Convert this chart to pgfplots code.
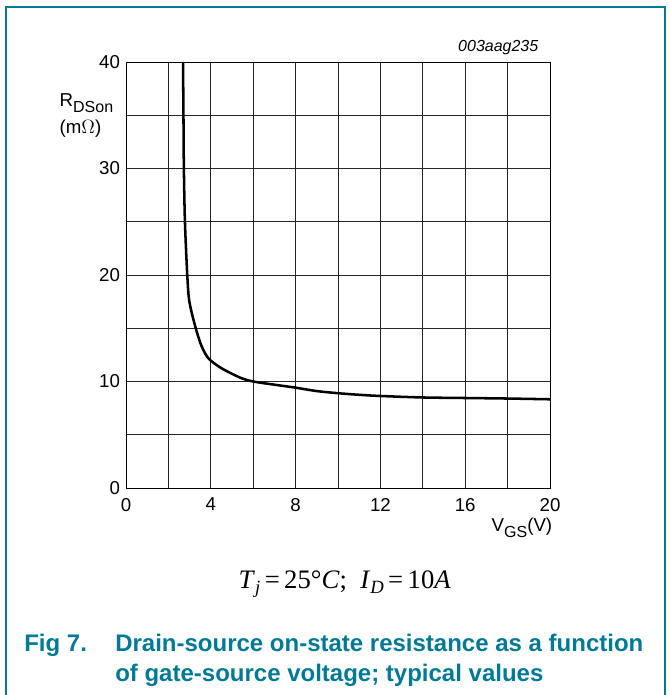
\documentclass[border=0pt]{standalone}
\usepackage{pgfplots}
\pgfplotsset{compat=1.18}
\usepackage{fontspec}
\setmainfont{Liberation Sans}
\newfontfamily\timesf{Liberation Serif}
\definecolor{nxp}{RGB}{0,122,148}

\begin{document}
\begin{tikzpicture}[x=0.75pt,y=0.75pt]
% picture coordinates in reference pixels, origin at bottom left
\useasboundingbox (0,0) rectangle (669,695);
\draw[nxp,line width=1.3pt] (6,-5)--(6,688)--(665,688)--(665,-5);
\begin{axis}[
  at={(94.5pt,155.25pt)}, anchor=south west,
  scale only axis, width=318pt, height=319.5pt,
  xmin=0, xmax=20, ymin=0, ymax=40,
  xtick={0,4,...,20}, ytick={0,10,...,40},
  minor xtick={2,6,...,18}, minor ytick={5,15,25,35},
  grid=both,
  major grid style={black!85,line width=0.6pt},
  minor grid style={black!85,line width=0.6pt},
  major tick length=0pt, minor tick length=0pt,
  axis line style={black,line width=0.7pt},
  /pgf/number format/assume math mode=true,
  ticklabel style={font=\fontsize{14}{14}\selectfont},
  xticklabel style={yshift=-4pt},
  yticklabel style={xshift=-1pt},
]
\addplot[black, line width=1.9pt, smooth, tension=0.5] coordinates {
  (2.69,40) (2.71,35) (2.73,30) (2.78,25) (2.89,20) (2.99,17.5)
  (3.29,15) (3.57,13.3) (3.9,12.15) (4.5,11.25)
  (5.4,10.35) (6,10.0) (7,9.7) (8,9.42) (9,9.1) (10,8.9)
  (11,8.75) (12,8.64) (14,8.5) (16,8.45) (18,8.4) (20,8.33)
};
\end{axis}
\node[anchor=base east,font=\fontsize{12}{12}\selectfont\itshape] at (543,643) {003aag235};
\node[anchor=base west,font=\fontsize{14}{14}\selectfont] at (55,588) {R\raisebox{-0.55ex}{\fontsize{12}{12}\selectfont DSon}};
\node[anchor=base west,font=\fontsize{14}{14}\selectfont] at (55,561) {(m\(\Omega\))};
\node[anchor=base west,font=\fontsize{14}{14}\selectfont] at (487,163) {V\raisebox{-0.55ex}{\fontsize{12}{12}\selectfont GS}(V)};
\node[anchor=base east,inner sep=0pt,font=\fontsize{20}{20}\selectfont\timesf] at (451,106) {\textit{T}\raisebox{-0.4ex}{\fontsize{14}{14}\selectfont\textit{j}}\,=\,25°\textit{C};\ \ \textit{I}\raisebox{-0.4ex}{\fontsize{14}{14}\selectfont\textit{D}}\,=\,10\textit{A}};
\node[anchor=base west,inner sep=0pt,nxp,font=\fontsize{18}{18}\selectfont\bfseries] at (24,43) {Fig 7.};
\node[anchor=base west,inner sep=0pt,nxp,font=\fontsize{18}{18}\selectfont\bfseries] at (115,43) {Drain-source on-state resistance as a function};
\node[anchor=base west,inner sep=0pt,nxp,font=\fontsize{18}{18}\selectfont\bfseries] at (115,13) {of gate-source voltage; typical values};
\end{tikzpicture}
\end{document}
